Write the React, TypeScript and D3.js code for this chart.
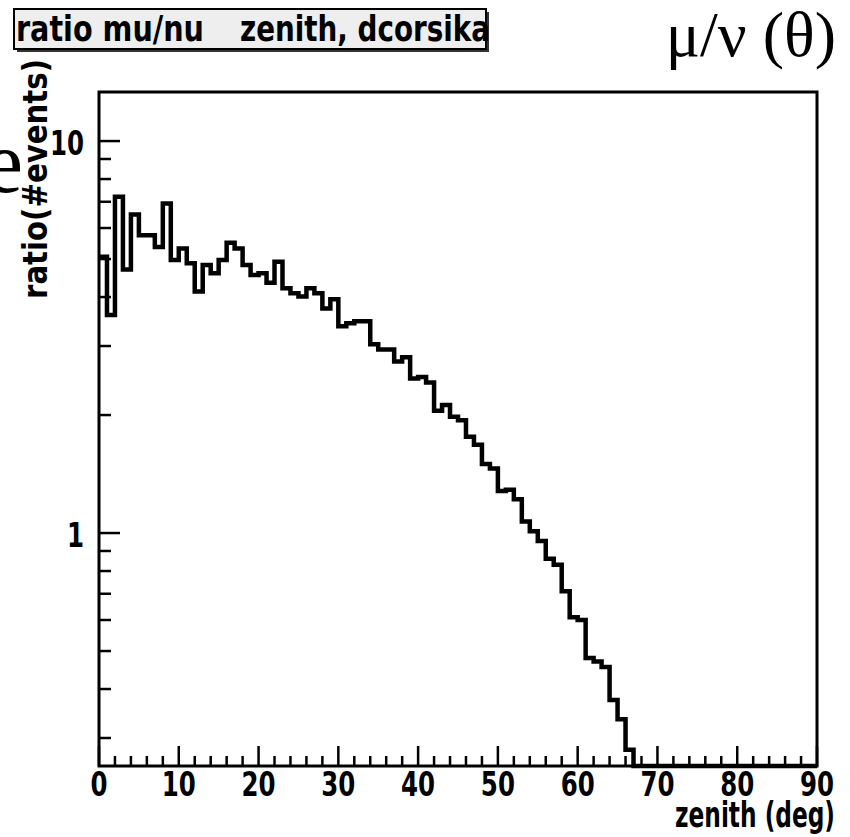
import React from "react";
import * as d3 from "d3";

// ---- data ----
const zenithBinLow = [
  0, 1, 2, 3, 4, 5, 6, 7, 8, 9, 10, 11, 12, 13, 14, 15, 16, 17, 18, 19,
  20, 21, 22, 23, 24, 25, 26, 27, 28, 29, 30, 31, 32, 33, 34, 35, 36, 37, 38, 39,
  40, 41, 42, 43, 44, 45, 46, 47, 48, 49, 50, 51, 52, 53, 54, 55, 56, 57, 58, 59,
  60, 61, 62, 63, 64, 65, 66, 67, 68, 69, 70, 71, 72, 73, 74, 75, 76, 77, 78, 79,
  80, 81, 82, 83, 84, 85, 86, 87, 88, 89,
];
const binWidthDeg = 1;
const ratioValues = [
  5.07, 3.6, 7.21, 4.7, 6.5, 5.75, 5.75, 5.37, 6.93, 4.97,
  5.32, 4.88, 4.13, 4.83, 4.6, 4.97, 5.5, 5.32, 4.83, 4.55,
  4.6, 4.35, 4.92, 4.21, 4.09, 4.01, 4.21, 4.09, 3.74, 3.95,
  3.37, 3.43, 3.47, 3.47, 3.03, 2.94, 2.94, 2.74, 2.81, 2.48,
  2.5, 2.42, 2.05, 2.12, 1.98, 1.94, 1.76, 1.68, 1.5, 1.46,
  1.28, 1.29, 1.22, 1.07, 1.01, 0.955, 0.86, 0.83, 0.71, 0.61,
  0.6, 0.48, 0.47, 0.455, 0.375, 0.335, 0.28, 0, 0, 0,
  0, 0, 0, 0, 0, 0, 0, 0, 0, 0,
  0, 0, 0, 0, 0, 0, 0, 0, 0, 0,
];
const xMajorTicks = [0, 10, 20, 30, 40, 50, 60, 70, 80, 90];
const xTickLabels = ["0", "10", "20", "30", "40", "50", "60", "70", "80", "90"];
const xMinorTicks = [2, 4, 6, 8, 12, 14, 16, 18, 22, 24, 26, 28, 32, 34, 36, 38, 42, 44, 46, 48, 52, 54, 56, 58, 62, 64, 66, 68, 72, 74, 76, 78, 82, 84, 86, 88];
const yMajorTicks = [1, 10];
const yTickLabels = ["1", "10"];
const yMinorTicks = [0.3, 0.4, 0.5, 0.6, 0.7, 0.8, 0.9, 2, 3, 4, 5, 6, 7, 8, 9];
const xDomain = [0, 90];
const yDomain = [0.2545, 13.34];

const titleLeft = "ratio mu/nu";
const titleRight = "zenith, dcorsika";
const xTitle = "zenith (deg)";
const yTitle = "ratio(#events)";
const cornerLabel = "\u03bc/\u03bd (\u03b8)";

const SANS = "'Liberation Sans Narrow', 'DejaVu Sans Condensed', 'Arial Narrow', sans-serif";
const SERIF = "'Liberation Serif', 'DejaVu Serif', serif";

function NarrowText(props: { x: number; y: number; anchor?: string; size: number; sx: number; children: string }) {
  const { x, y, anchor, size, sx, children } = props;
  return (
    <text
      transform={`translate(${x},${y}) scale(${sx},1)`}
      textAnchor={anchor || "start"}
      fontFamily={SANS}
      fontWeight="bold"
      fontStretch="condensed"
      fontSize={size}
      fill="#000"
    >
      {children}
    </text>
  );
}

export default function App() {
  const W = 850;
  const H = 837;
  const left = 99, right = 817, top = 92, bottom = 766;
  const x = d3.scaleLinear().domain(xDomain).range([left, right]);
  const y = d3.scaleLog().domain(yDomain).range([bottom, top]).clamp(true);

  const pts: [number, number][] = [];
  zenithBinLow.forEach((lo, i) => {
    const v = ratioValues[i];
    const yy = v > 0 ? y(v) : bottom;
    pts.push([x(lo), yy]);
    pts.push([x(lo + binWidthDeg), yy]);
  });
  const path = d3.line()(pts) || "";

  return (
    <svg width={W} height={H} style={{ position: "absolute", left: 0, top: 0, background: "#fff" }}>
      <rect x={0} y={0} width={W} height={H} fill="#fff" />
      {/* partial big letter at left edge */}
      <text x={23} y={192} textAnchor="end" fontFamily={SERIF} fontSize={88} fill="#000">e</text>
      {/* corner label */}
      <text x={836} y={56} textAnchor="end" fontFamily={SERIF} fontSize={64} fill="#000">{cornerLabel}</text>

      {/* title box */}
      <rect x={17} y={12} width={472} height={40} fill="#333" />
      <rect x={14} y={9} width={472} height={40} fill="#eeeeee" stroke="#000" strokeWidth={2} />
      <text x={16} y={41} fontFamily={SANS} fontWeight="bold" fontSize={36} textLength={188} lengthAdjust="spacingAndGlyphs" fill="#000">{titleLeft}</text>
      <text x={240} y={41} fontFamily={SANS} fontWeight="bold" fontSize={36} textLength={250} lengthAdjust="spacingAndGlyphs" fill="#000">{titleRight}</text>

      {/* histogram */}
      <path d={path} fill="none" stroke="#000" strokeWidth={4.5} strokeLinejoin="miter" />

      {/* frame */}
      <rect x={left} y={top} width={right - left} height={bottom - top} fill="none" stroke="#000" strokeWidth={3} />

      {/* x ticks */}
      {xMajorTicks.map((t) => (
        <line key={"xM" + t} x1={x(t)} x2={x(t)} y1={bottom} y2={bottom - 20} stroke="#000" strokeWidth={2.5} />
      ))}
      {xMinorTicks.map((t) => (
        <line key={"xm" + t} x1={x(t)} x2={x(t)} y1={bottom} y2={bottom - 10} stroke="#000" strokeWidth={2.5} />
      ))}
      {xMajorTicks.map((t, i) => (
        <NarrowText key={"xl" + t} x={x(t)} y={796} anchor="middle" size={34} sx={0.8}>{xTickLabels[i]}</NarrowText>
      ))}

      {/* y ticks */}
      {yMajorTicks.map((t) => (
        <line key={"yM" + t} x1={left} x2={left + 21} y1={y(t)} y2={y(t)} stroke="#000" strokeWidth={2.5} />
      ))}
      {yMinorTicks.map((t) => (
        <line key={"ym" + t} x1={left} x2={left + 12} y1={y(t)} y2={y(t)} stroke="#000" strokeWidth={2.5} />
      ))}
      {yMajorTicks.map((t, i) => (
        <NarrowText key={"yl" + t} x={84} y={y(t) + 14} anchor="end" size={34} sx={0.8}>{yTickLabels[i]}</NarrowText>
      ))}

      {/* axis titles */}
      <text x={835} y={827} textAnchor="end" fontFamily={SANS} fontWeight="bold" fontSize={36} textLength={160} lengthAdjust="spacingAndGlyphs" fill="#000">{xTitle}</text>
      <text transform="translate(47,299) rotate(-90)" x={0} y={0} fontFamily={SANS} fontWeight="bold" fontSize={34} textLength={240} lengthAdjust="spacingAndGlyphs" fill="#000">{yTitle}</text>
    </svg>
  );
}
